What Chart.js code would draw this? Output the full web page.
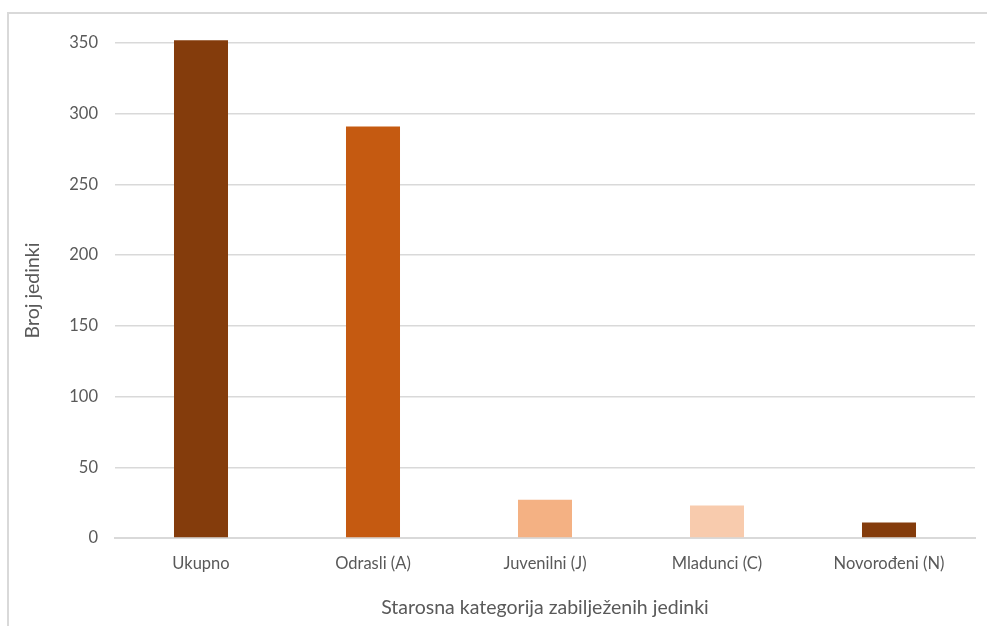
<html lang="hr">

<head>
    <meta charset="UTF-8">
    <title>Starosna kategorija</title>
    <script src="https://cdn.jsdelivr.net/npm/chart.js"></script>
    <style>
        body { margin: 0; background: #fff; }
        .okvir {
            position: absolute; left: 7px; top: 12px; width: 990px; height: 630px;
            border-left: 2px solid #d9d9d9; border-top: 2px solid #d9d9d9;
        }
        .platno { position: absolute; left: 0; top: 0; width: 987px; height: 626px; }
    </style>
</head>

<body>
    <div class="okvir"></div>
    <div class="platno">
        <canvas id="myChart"></canvas>
    </div>
    <script>
        // kategorije i broj jedinki
        const kategorije = ['Ukupno', 'Odrasli (A)', 'Juvenilni (J)', 'Mladunci (C)', 'Novorođeni (N)'];
        const brojJedinki = [352, 291, 27, 23, 11];
        const boje = ['#843c0c', '#c55a11', '#f4b183', '#f8cbad', '#843c0c'];

        const font = "Lato, 'Open Sans', sans-serif";
        const siva = '#595959';

        const ctx = document.getElementById('myChart');
        new Chart(ctx, {
            type: 'bar',
            data: {
                labels: kategorije,
                datasets: [{
                    data: brojJedinki,
                    backgroundColor: boje,
                    borderWidth: 0,
                    barPercentage: 0.314,
                    categoryPercentage: 1.0,
                    clip: false // Ukupno ide malo iznad 350
                }]
            },
            options: {
                responsive: true,
                maintainAspectRatio: false,
                animation: false,
                layout: { padding: { left: 0, right: 12, top: 43, bottom: 0 } },
                plugins: {
                    legend: { display: false },
                    tooltip: { enabled: false }
                },
                scales: {
                    x: {
                        grid: { display: false, drawTicks: false },
                        border: { color: '#d9d9d9', width: 2 },
                        ticks: { color: siva, font: { family: font, size: 16.5 }, padding: 16 },
                        title: {
                            display: true,
                            text: 'Starosna kategorija zabilježenih jedinki',
                            color: siva,
                            font: { family: font, size: 19.5 },
                            padding: { top: 0, bottom: 7 }
                        },
                        afterFit: (s) => { s.height = 88; }
                    },
                    y: {
                        min: 0,
                        max: 350,
                        grid: { color: '#d9d9d9', lineWidth: 1.5, drawTicks: false },
                        border: { display: false },
                        ticks: { stepSize: 50, color: siva, font: { family: font, size: 16.5 }, padding: 17 },
                        title: {
                            display: true,
                            text: 'Broj jedinki',
                            color: siva,
                            font: { family: font, size: 19.5 },
                            padding: { top: 21, bottom: 0 }
                        },
                        afterFit: (s) => { s.width = 115; }
                    }
                }
            }
        });
    </script>
</body>

</html>
